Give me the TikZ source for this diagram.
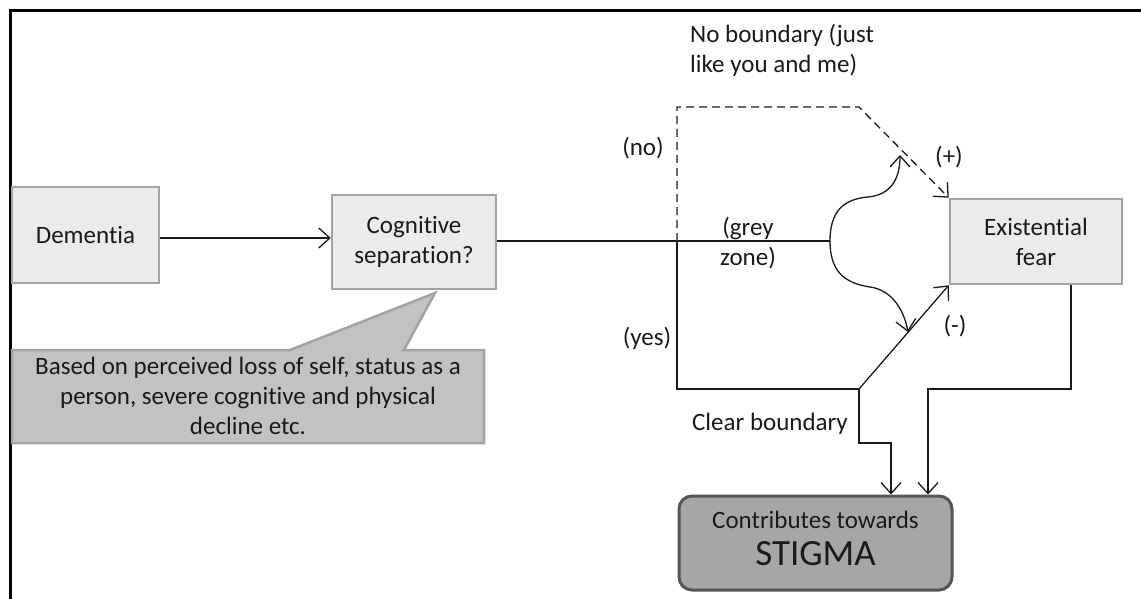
\documentclass[tikz,border=0pt]{standalone}
\usepackage{fontspec}
\setmainfont{Carlito}[Ligatures={NoCommon,NoContextual}]
\usetikzlibrary{arrows.meta,calc}
\definecolor{boxfill}{HTML}{EBEBEB}
\definecolor{boxline}{HTML}{A3A3A3}
\definecolor{callfill}{HTML}{C2C2C2}
\definecolor{stigfill}{HTML}{A6A6A6}
\definecolor{stigline}{HTML}{555555}
\definecolor{ink}{HTML}{1A1A1A}
\tikzset{
  every node/.style={font=\fontsize{25}{30}\selectfont, text=ink, inner sep=0pt},
  greybox/.style={draw=boxline, fill=boxfill, line width=2.5pt, align=center},
  conn/.style={draw=ink, line width=1.3pt},
  arr/.style={conn, -{Straight Barb[length=11pt,width=20pt,line width=1.3pt]}},
  dashedconn/.style={conn, dash pattern=on 8pt off 5pt},
  lbl/.style={align=center},
}
\begin{document}
\begin{tikzpicture}[x=1pt,y=-1pt]
  \useasboundingbox (0,0) rectangle (1141,599);
  % outer frame (top and left edges)
  \draw[line width=3pt] (1141,11) -- (10,11) -- (10,599);

  % boxes
  \node[greybox, minimum width=147pt, minimum height=96pt] (dem) at (85.5,235) {Dementia};
  \node[greybox, minimum width=164pt, minimum height=94pt] (cog) at (414,242) {Cognitive\\separation?};
  \node[greybox, minimum width=172pt, minimum height=85pt] (ex) at (1036,241.5) {Existential\\fear};
  \node[draw=stigline, fill=stigfill, line width=3pt, rounded corners=13pt,
        minimum width=273pt, minimum height=94pt] (stig) at (815.5,543) {};
  \node[lbl] (stigtext) at (815.5,538)
        {Contributes towards\\[7pt]{\fontsize{37}{40}\selectfont STIGMA}};

  % callout pointing at the cognitive separation box
  \draw[draw=boxline, fill=callfill, line width=2.5pt]
    (12,350) -- (290,350) -- (435,293) -- (404,350) -- (484,350)
    -- (484,443) -- (12,443) -- cycle;
  \node[lbl] (note) at (248,396)
    {Based on perceived loss of self, status as a\\person, severe cognitive and physical\\decline etc.};

  % junction points
  \coordinate (da) at (160,238);
  \coordinate (sp) at (830,241);
  \coordinate (yn) at (677,241);
  \coordinate (ntop) at (677,107);
  \coordinate (nbend) at (859,107);
  \coordinate (ybot) at (677,389);
  \coordinate (yb) at (859,389);
  \coordinate (ydown) at (859,443);
  \coordinate (kink) at (891,443);
  \coordinate (ef) at (1071,389);
  \coordinate (eg) at (928,389);
  \coordinate (uptip) at (900,155);
  \coordinate (lowtip) at (908,332);

  % connectors
  \draw[arr] (dem.east |- da) -- (cog.west |- da);
  \draw[conn] (cog.east |- sp) -- (sp);
  \draw[dashedconn, -{Straight Barb[length=11pt,width=20pt,line width=1.3pt]}]
    (yn) -- (ntop) -- (nbend) -- (ex.north west);
  \draw[conn] (yn) -- (ybot) -- (yb);
  \draw[arr] (yb) -- (ex.south west);
  \draw[arr] (sp) .. controls (830,212) and (843,199) .. (868,197)
                  .. controls (890,195) and (900,180) .. (uptip);
  \draw[arr] (sp) .. controls (830,270) and (843,283) .. (870,287)
                  .. controls (892,290) and (904,310) .. (lowtip);
  \draw[arr] (yb) -- (ydown) -- (kink) -- (kink |- stig.north);
  \draw[arr] (ex.south -| ef) -- (ef) -- (eg) -- (eg |- stig.north);

  % labels
  \node[anchor=west, align=left] (nob) at (690,50) {No boundary (just\\like you and me)};
  \node (nolbl) at (643,148) {(no)};
  \node (plus) at (949,157) {(+)};
  \node[lbl] (grey) at (748,243) {(grey\\zone)};
  \node (yes) at (647,338) {(yes)};
  \node (minus) at (955,326) {(-)};
  \node (clear) at (770,424) {Clear boundary};
\end{tikzpicture}
\end{document}
